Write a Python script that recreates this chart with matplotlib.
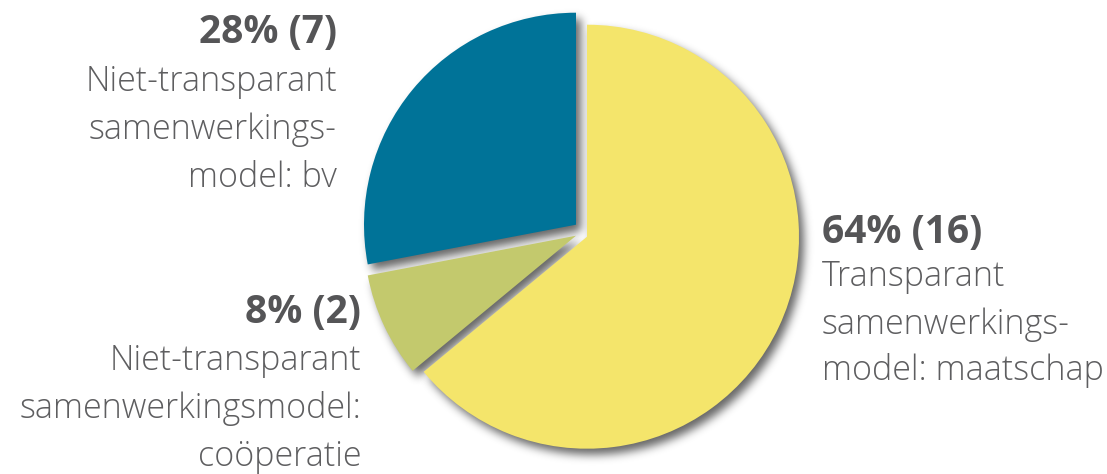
import numpy as np
import matplotlib.pyplot as plt
from matplotlib.patches import Wedge

# survey result: number of practices per cooperation model
counts = [16, 2, 7]
shares = [64, 8, 28]
colors = ["#F4E56B", "#C3C96D", "#007398"]
names = [
    ["Transparant", "samenwerkings-", "model: maatschap"],
    ["Niet-transparant", "samenwerkingsmodel:", "coöperatie"],
    ["Niet-transparant", "samenwerkings-", "model: bv"],
]

W, H = 1107, 474
cx, cy, r = 587, 237.3, 212
# slice displacement in pixels (x right, y up)
shifts = [(0, 0), (-11, 1), (-11, 12)]


def soft_shadow(sigma, offset, alpha):
    def _filter(im, dpi):
        pad = int(3 * sigma)
        a = np.pad(im[..., 3], pad)
        k = np.exp(-0.5 * (np.arange(-pad, pad + 1) / sigma) ** 2)
        k /= k.sum()
        a = np.apply_along_axis(np.convolve, 0, a, k, mode="same")
        a = np.apply_along_axis(np.convolve, 1, a, k, mode="same")
        out = np.zeros(a.shape + (4,))
        out[..., 3] = np.clip(a * alpha, 0, 1)
        return out, offset[0] - pad, offset[1] - pad
    return _filter


fig = plt.figure(figsize=(W / 100, H / 100), dpi=100)
ax = fig.add_axes([0, 0, 1, 1])

wedges, _ = ax.pie(counts, colors=colors, startangle=90, counterclock=False,
                   radius=r, center=(cx, cy),
                   wedgeprops=dict(linewidth=0, zorder=2))

for w, (dx, dy) in zip(wedges, shifts):
    w.set_center((cx + dx, cy + dy))
    sh = Wedge(w.center, w.r, w.theta1, w.theta2, facecolor="black",
               linewidth=0, zorder=1)
    sh.set_agg_filter(soft_shadow(4.5, (5, -6), 0.6))
    ax.add_patch(sh)

ax.set_xlim(0, W)
ax.set_ylim(0, H)
ax.set_aspect("equal")
ax.axis("off")

plt.rcParams["font.family"] = ["Open Sans", "DejaVu Sans"]
head_col = "#555557"
body_col = "#5E5E60"

# label blocks: (x, first baseline from top, alignment, line step)
blocks = [
    (822, 243, "left", 45.5),
    (361, 323, "right", 47.5),
    (337, 43, "right", 48),
]

for (x, top, ha, step), n, p, lines in zip(blocks, counts, shares, names):
    ax.text(x, H - top, f"{p}% ({n})", ha=ha, va="baseline",
            fontsize=28, fontweight="bold", color=head_col)
    for i, line in enumerate(lines):
        ax.text(x, H - top - step * (i + 1) + (3 if i == 0 and ha == "left" else 0),
                line, ha=ha, va="baseline", fontsize=24.5, fontweight="light",
                color=body_col)

fig.savefig("out.png", dpi=100, facecolor="white")
